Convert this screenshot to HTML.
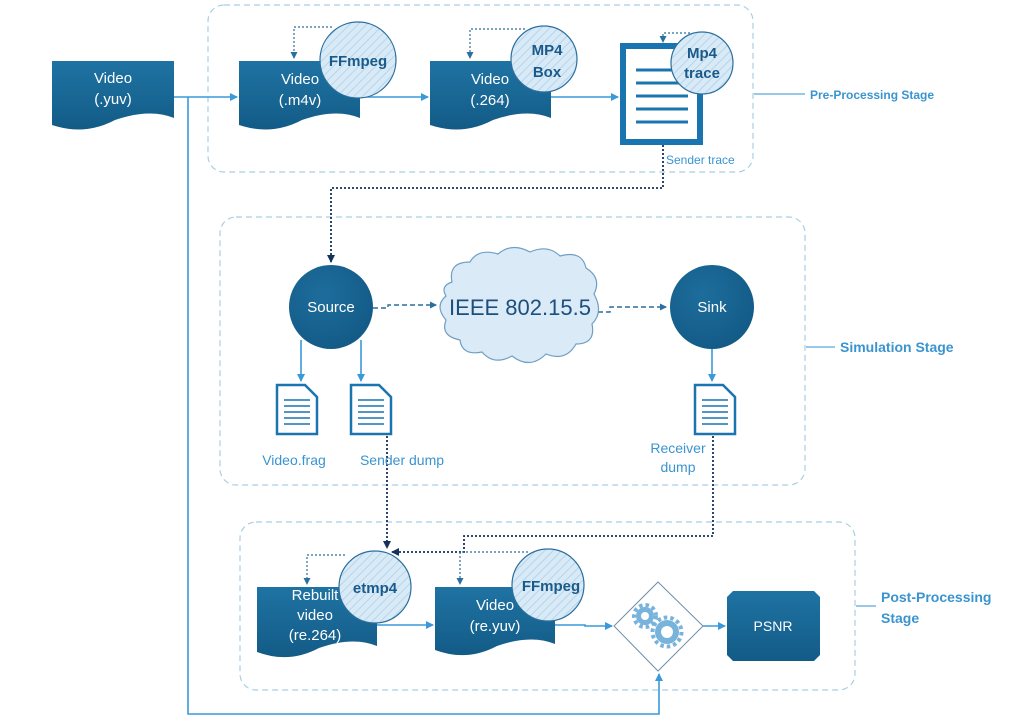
<!DOCTYPE html>
<html><head><meta charset="utf-8"><style>
html,body{margin:0;padding:0;background:#fff;}
svg{display:block;font-family:"Liberation Sans","DejaVu Sans",sans-serif;}
</style></head><body>
<svg width="1024" height="720" viewBox="0 0 1024 720" xmlns="http://www.w3.org/2000/svg">
<defs>
<linearGradient id="dg" x1="0" y1="0" x2="0" y2="1"><stop offset="0" stop-color="#1f73a3"/><stop offset="1" stop-color="#135b87"/></linearGradient>
<radialGradient id="cg" cx="0.4" cy="0.35" r="0.7"><stop offset="0" stop-color="#1d6d9c"/><stop offset="1" stop-color="#135a86"/></radialGradient>
<pattern id="hatch" width="6" height="6" patternUnits="userSpaceOnUse" patternTransform="rotate(45)"><rect width="6" height="6" fill="#d9eaf7"/><line x1="0" y1="0" x2="0" y2="6" stroke="#b6d4ec" stroke-width="2"/></pattern>
<marker id="ab" markerWidth="8" markerHeight="8" refX="7" refY="4" orient="auto" markerUnits="userSpaceOnUse"><path d="M0,0 L8,4 L0,8 z" fill="#3a9ad9"/></marker>
<marker id="ad" markerWidth="8" markerHeight="8" refX="7" refY="4" orient="auto" markerUnits="userSpaceOnUse"><path d="M0,0 L8,4 L0,8 z" fill="#14325e"/></marker>
<marker id="am" markerWidth="7" markerHeight="7" refX="6" refY="3.5" orient="auto" markerUnits="userSpaceOnUse"><path d="M0,0 L7,3.5 L0,7 z" fill="#2b6f9e"/></marker>
</defs>

<g fill="none" stroke="#a9cfe3" stroke-width="1.2" stroke-dasharray="6,4">
<rect x="208" y="5" width="545" height="167" rx="16"/>
<rect x="220" y="217" width="585" height="268" rx="16"/>
<rect x="240" y="522" width="615" height="168" rx="16"/>
</g>
<g stroke="#5aa9dc" stroke-width="1.2">
<line x1="754" y1="94" x2="805" y2="94"/>
<line x1="806" y1="347" x2="835" y2="347"/>
<line x1="856" y1="606" x2="876" y2="606"/>
</g>
<g fill="#3a94d0" font-weight="bold">
<text x="810" y="99" font-size="12">Pre-Processing Stage</text>
<text x="840" y="352" font-size="14">Simulation Stage</text>
<text x="881" y="602" font-size="14">Post-Processing</text>
<text x="881" y="623" font-size="14">Stage</text>
</g>

<g fill="none" stroke="#3a9ad9" stroke-width="1.6">
<line x1="174" y1="97" x2="237" y2="97" marker-end="url(#ab)"/>
<polyline points="188,97 188,714 659,714 659,674" marker-end="url(#ab)"/>
<line x1="360" y1="97" x2="428" y2="97" marker-end="url(#ab)"/>
<line x1="551" y1="97" x2="618" y2="97" marker-end="url(#ab)"/>
<line x1="301" y1="340" x2="301" y2="381" marker-end="url(#ab)"/>
<line x1="361" y1="340" x2="361" y2="381" marker-end="url(#ab)"/>
<line x1="712" y1="349" x2="712" y2="381" marker-end="url(#ab)"/>
<line x1="377" y1="625" x2="433" y2="625" marker-end="url(#ab)"/>
<polyline points="555,625 585,625 585,626 612,626" marker-end="url(#ab)"/>
<line x1="703" y1="626" x2="725" y2="626" marker-end="url(#ab)"/>
</g>

<g fill="none" stroke="#14325e" stroke-width="1.8" stroke-dasharray="2,2">
<polyline points="663,145 663,188 331,188 331,262" marker-end="url(#ad)"/>
<polyline points="387,436 387,548" marker-end="url(#ad)"/>
<polyline points="713,436 713,536 464,536 464,552 392,552" marker-end="url(#ad)"/>
</g>
<g fill="none" stroke="#2b6f9e" stroke-width="1.4" stroke-dasharray="5,3">
<polyline points="373,308 388,308 388,305 436,305" marker-end="url(#am)"/>
<polyline points="598,312 610,312 610,307 666,307" marker-end="url(#am)"/>
</g>
<g fill="none" stroke="#2b6f9e" stroke-width="1.2" stroke-dasharray="2,2">
<polyline points="332,27 294,27 294,58" marker-end="url(#am)"/>
<polyline points="525,29 470,29 470,58" marker-end="url(#am)"/>
<polyline points="690,33 663,33 663,42" marker-end="url(#am)"/>
<polyline points="345,555 307,555 307,584" marker-end="url(#am)"/>
<polyline points="528,552 460,552 460,584" marker-end="url(#am)"/>
</g>

<g fill="url(#dg)">
<path d="M52 61 H174 V118 Q150 108 115 120 Q85 136 52 125 Z"/>
<path d="M239 61 H360 V118 Q336 108 302 120 Q272 136 239 125 Z"/>
<path d="M430 61 H551 V118 Q527 108 493 120 Q463 136 430 125 Z"/>
<path d="M257 587 H377 V646 Q353 636 319 648 Q289 664 257 652 Z"/>
<path d="M435 587 H555 V644 Q531 634 497 646 Q467 662 435 650 Z"/>
</g>
<g fill="#fff" font-size="15" text-anchor="middle">
<text x="113" y="83">Video</text><text x="113" y="104">(.yuv)</text>
<text x="300" y="84">Video</text><text x="300" y="105">(.m4v)</text>
<text x="490" y="84">Video</text><text x="490" y="105">(.264)</text>
<text x="315" y="600">Rebuilt</text><text x="315" y="620">video</text><text x="315" y="640">(re.264)</text>
<text x="495" y="610">Video</text><text x="495" y="631">(re.yuv)</text>
</g>

<rect x="623" y="46" width="77" height="96" fill="#fff" stroke="#1a74b0" stroke-width="6"/>
<g stroke="#1a74b0" stroke-width="3">
<line x1="636" y1="70" x2="688" y2="70"/><line x1="636" y1="83" x2="688" y2="83"/>
<line x1="636" y1="96" x2="688" y2="96"/><line x1="636" y1="109" x2="688" y2="109"/>
<line x1="636" y1="122" x2="688" y2="122"/>
</g>
<text x="666" y="164" font-size="12" fill="#3a94d0">Sender trace</text>

<g fill="url(#hatch)" stroke="#2b6f9e" stroke-width="1.2">
<circle cx="358" cy="60" r="38"/>
<circle cx="544" cy="59" r="33"/>
<circle cx="702" cy="63" r="31"/>
<circle cx="375" cy="587" r="36"/>
<circle cx="548" cy="585" r="36"/>
</g>
<g fill="#1a5a8a" font-size="15" font-weight="bold" text-anchor="middle">
<text x="358" y="66">FFmpeg</text>
<text x="547" y="55">MP4</text><text x="547" y="77">Box</text>
<text x="702" y="58">Mp4</text><text x="702" y="78">trace</text>
<text x="375" y="593">etmp4</text>
<text x="551" y="591">FFmpeg</text>
</g>

<circle cx="331" cy="307" r="42" fill="url(#cg)"/>
<circle cx="712" cy="307" r="42" fill="url(#cg)"/>
<g fill="#fff" font-size="15" text-anchor="middle">
<text x="331" y="312">Source</text><text x="712" y="312">Sink</text>
</g>

<path d="M452 282 Q448 262 470 262 Q478 248 498 254 Q512 242 530 252 Q548 244 560 256 Q582 250 586 268 Q602 278 594 294 Q604 312 592 324 Q596 344 576 344 Q566 362 546 354 Q530 370 512 356 Q494 366 482 352 Q462 356 460 340 Q440 336 446 320 Q434 306 446 296 Q440 286 452 282 Z" fill="#dbeaf7" stroke="#6f9fc4" stroke-width="1.2"/>
<text x="520" y="315" font-size="22" fill="#1a4f7e" text-anchor="middle">IEEE 802.15.5</text>

<g fill="#fff" stroke="#1a74b0" stroke-width="2.5">
<path d="M277 385 H305 L317 397 V434 H277 Z"/>
<path d="M351 385 H379 L391 397 V434 H351 Z"/>
<path d="M695 385 H723 L735 397 V434 H695 Z"/>
</g>
<g stroke="#1a74b0" stroke-width="1.5">
<path d="M284 400 H310 M284 406 H310 M284 412 H310 M284 418 H310 M284 424 H310"/>
<path d="M358 400 H384 M358 406 H384 M358 412 H384 M358 418 H384 M358 424 H384"/>
<path d="M702 400 H728 M702 406 H728 M702 412 H728 M702 418 H728 M702 424 H728"/>
</g>
<g fill="#3a94d0" font-size="14" text-anchor="middle">
<text x="294" y="465">Video.frag</text>
<text x="402" y="465">Sender dump</text>
<text x="678" y="453">Receiver</text>
<text x="678" y="472">dump</text>
</g>

<path d="M658 582 L703 626 L658 671 L614 626 Z" fill="#fff" stroke="#6f8fa8" stroke-width="1"/>
<g>
<circle cx="645" cy="616" r="9" fill="#78b3dc"/>
<circle cx="667" cy="632" r="12" fill="#78b3dc"/>
<g stroke="#78b3dc" stroke-width="4" stroke-dasharray="3.5,3" fill="none">
<circle cx="645" cy="616" r="11"/>
<circle cx="667" cy="632" r="14.5"/>
</g>
<circle cx="645" cy="616" r="4" fill="#fff"/>
<circle cx="667" cy="632" r="6" fill="#fff"/>
</g>

<path d="M733 591 H814 L820 597 V655 L814 661 H733 L727 655 V597 Z" fill="url(#dg)"/>
<text x="773" y="631" font-size="14" fill="#fff" text-anchor="middle">PSNR</text>
</svg>
</body></html>
